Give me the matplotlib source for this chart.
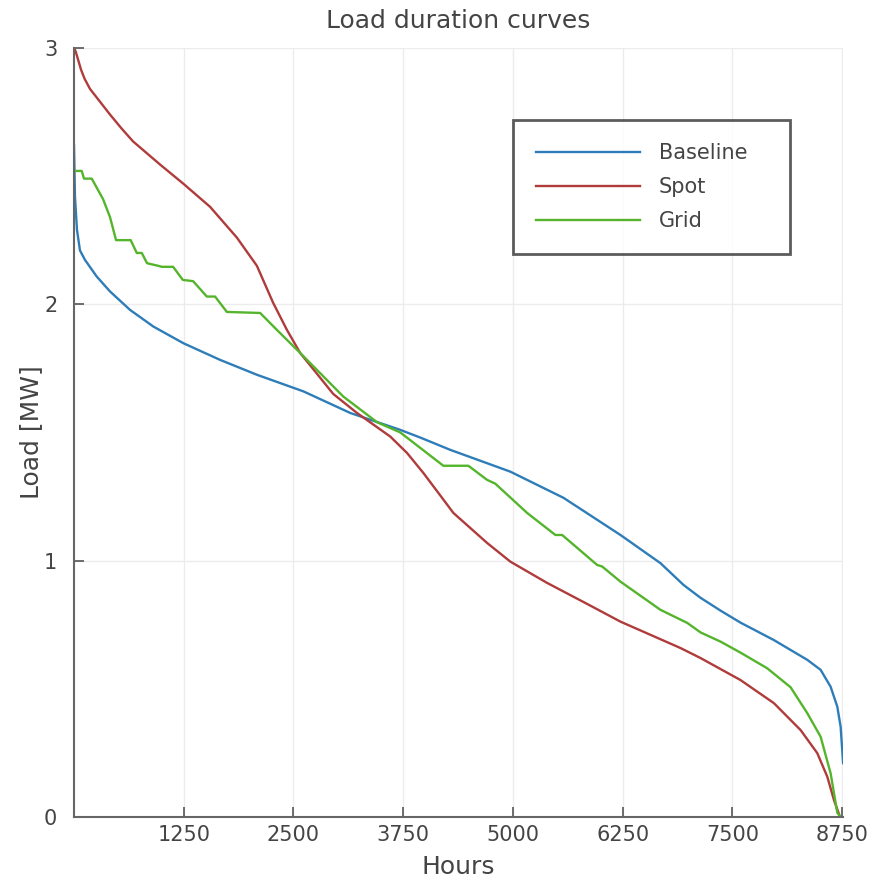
import matplotlib
matplotlib.use('Agg')
import matplotlib.pyplot as plt

# load duration curves
baselineHours = [0, 11, 34, 68, 125, 259, 410, 638, 904, 1246, 1664, 2083, 2614, 3146,
                 3716, 3944, 4286, 4970, 5575, 6224, 6680, 6943, 7136, 7364, 7592, 7972,
                 8352, 8504, 8618, 8694, 8732, 8760]
baselineLoad = [2.62, 2.42, 2.29, 2.21, 2.173, 2.108, 2.05, 1.978, 1.913, 1.848, 1.783,
                1.725, 1.66, 1.576, 1.51, 1.48, 1.432, 1.347, 1.245, 1.10, 0.99, 0.905,
                0.855, 0.805, 0.758, 0.69, 0.613, 0.574, 0.508, 0.43, 0.352, 0.21]

spotHours = [0, 20, 50, 80, 120, 182, 296, 410, 543, 673, 980, 1246, 1550, 1855, 2083,
             2269, 2425, 2576, 2953, 3223, 3602, 3793, 3979, 4192, 4321, 4705, 4970, 5389,
             5845, 6224, 6908, 7136, 7592, 7972, 8276, 8466, 8580, 8656, 8725]
spotLoad = [3.00, 2.985, 2.95, 2.915, 2.88, 2.84, 2.79, 2.74, 2.685, 2.635, 2.545, 2.47,
            2.38, 2.26, 2.15, 2.005, 1.90, 1.81, 1.65, 1.576, 1.484, 1.42, 1.342, 1.245,
            1.186, 1.069, 0.996, 0.913, 0.831, 0.762, 0.659, 0.62, 0.534, 0.444, 0.339,
            0.249, 0.157, 0.066, 0.0]

gridHours = [0, 88, 114, 202, 331, 410, 479, 646, 715, 772, 832, 958, 1000, 1129, 1239,
             1357, 1513, 1607, 1741, 2120, 2311, 2576, 3067, 3451, 3716, 4207, 4492, 4705,
             4799, 5161, 5483, 5560, 5959, 6016, 6224, 6680, 6985, 7136, 7364, 7592, 7896,
             8162, 8352, 8504, 8618, 8694, 8735]
gridLoad = [2.52, 2.52, 2.49, 2.49, 2.41, 2.34, 2.25, 2.25, 2.20, 2.20, 2.16, 2.15, 2.146,
            2.146, 2.095, 2.09, 2.03, 2.03, 1.97, 1.966, 1.90, 1.81, 1.64, 1.54, 1.50, 1.37,
            1.37, 1.315, 1.30, 1.186, 1.10, 1.10, 0.983, 0.977, 0.918, 0.808, 0.757, 0.72,
            0.684, 0.641, 0.58, 0.506, 0.405, 0.313, 0.17, 0.016, 0.0]

xTicks = [1250, 2500, 3750, 5000, 6250, 7500, 8750]
yTicks = [0, 1, 2, 3]

textColor = '#444444'
fig = plt.figure(figsize=(8.82, 8.80), dpi=100)
ax = fig.add_axes([0.0839, 0.0716, 0.872, 0.874])

ax.plot(baselineHours, baselineLoad, color='#2e7db8', lw=1.7, label='Baseline')
ax.plot(spotHours, spotLoad, color='#b03b3b', lw=1.7, label='Spot')
ax.plot(gridHours, gridLoad, color='#54b52c', lw=1.7, label='Grid')

ax.set_xlim(0, 8760)
ax.set_ylim(0, 3)
ax.set_xticks(xTicks)
ax.set_yticks(yTicks)
ax.grid(True, color='#ececec', lw=1)
ax.set_axisbelow(True)

for s in ['top', 'right']:
    ax.spines[s].set_visible(False)
for s in ['left', 'bottom']:
    ax.spines[s].set_color('#666666')
    ax.spines[s].set_linewidth(1.5)

ax.tick_params(direction='in', length=7, width=1.2, color='#555555',
               labelcolor=textColor, labelsize=15)
ax.tick_params(axis='y', pad=12)
ax.tick_params(axis='x', pad=6)

ax.set_title('Load duration curves', fontsize=18, color=textColor, pad=14)
ax.set_xlabel('Hours', fontsize=18, color=textColor, labelpad=7)
ax.set_ylabel('Load [MW]', fontsize=18, color=textColor, labelpad=1)

leg = ax.legend(loc='upper left', bbox_to_anchor=(0.571, 0.906, 0.36, 0.0), mode='expand',
                fontsize=15, frameon=True, fancybox=False, handlelength=5.0,
                handletextpad=0.9, labelspacing=0.68, borderpad=1.1, borderaxespad=0)
leg.get_frame().set_edgecolor('#333333')
leg.get_frame().set_linewidth(2)
for t in leg.get_texts():
    t.set_color(textColor)

plt.savefig('out.png', dpi=100)
